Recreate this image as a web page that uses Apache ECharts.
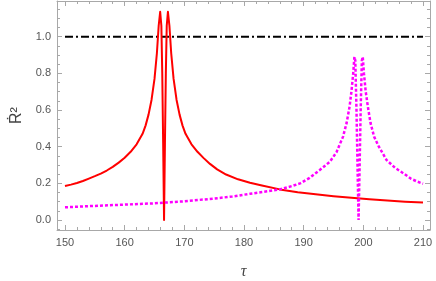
<!DOCTYPE html>
<html>
<head>
<meta charset="utf-8">
<script src="https://cdn.jsdelivr.net/npm/echarts@6/dist/echarts.min.js"></script>
<style>html,body{margin:0;padding:0;background:#fff;}#c{width:436px;height:281px;}</style>
</head>
<body>
<div id="c"></div>
<script>
var redTau = [150,151,152,153,154,155,156,157,158,159,160,161,162,163,163.5,164,164.5,165,165.4,165.7,165.95,166.15,166.3,166.45,166.6,166.75,166.9,167.05,167.25,167.5,167.8,168.2,168.7,169.2,169.7,170.2,171.2,172.2,173.2,174.3,175.5,177,179,181,183,186,189,192,195,198,201,204,207,210];
var redVal = [0.185,0.193,0.202,0.213,0.226,0.239,0.253,0.27,0.29,0.313,0.34,0.372,0.413,0.47,0.515,0.575,0.655,0.77,0.91,1.06,1.136,1.06,0.8,0.42,0.0,0.42,0.8,1.06,1.136,1.06,0.91,0.77,0.655,0.575,0.515,0.47,0.413,0.372,0.339,0.306,0.276,0.248,0.222,0.203,0.188,0.167,0.151,0.140,0.130,0.121,0.113,0.106,0.100,0.095];
var magTau = [150,155,160,165,170,175,178,181,184,186,188,189.4,191,192.7,194.4,195.5,196.6,197.2,197.7,198.0,198.3,198.5,198.65,198.85,199.05,199.2,199.35,199.55,199.75,199.9,200.1,200.4,200.75,201.2,201.8,202.6,203.9,205.3,206.7,208,209,210];
var magVal = [0.069,0.077,0.084,0.091,0.102,0.117,0.128,0.143,0.157,0.167,0.185,0.20,0.23,0.273,0.318,0.37,0.455,0.53,0.62,0.70,0.80,0.89,0.87,0.6,0.25,0.0,0.25,0.6,0.87,0.89,0.80,0.70,0.62,0.53,0.455,0.40,0.327,0.285,0.255,0.225,0.21,0.198];
var refTau = [150,210];
var refVal = [1.0,1.0];
var xMajorTicks = [150,160,170,180,190,200,210];
var xMinorTicks = [152,154,156,158,162,164,166,168,172,174,176,178,182,184,186,188,192,194,196,198,202,204,206,208];
var yMajorTicks = [0.0,0.2,0.4,0.6,0.8,1.0];
var yMinorTicks = [-0.05,0.05,0.1,0.15,0.25,0.3,0.35,0.45,0.5,0.55,0.65,0.7,0.75,0.85,0.9,0.95,1.05,1.1,1.15];

function pairs(a,b){return a.map(function(v,i){return [v,b[i]];});}
var frameColor = '#a8a8a8';
var labelColor = '#555';
var XMIN=148.66, XMAX=211.17, YMIN=-0.0546, YMAX=1.195;
function xAx(pos, major, labels){
  return {type:'value', position:pos, offset:0, min:XMIN, max:XMAX,
    axisLine:{show:major, onZero:false, lineStyle:{color:frameColor,width:1}},
    splitLine:{show:false},
    axisTick:{show:true, inside:true, length: major?5:3, lineStyle:{color:frameColor}, customValues: major?xMajorTicks:xMinorTicks},
    axisLabel:{show:labels, customValues:xMajorTicks, color:labelColor, fontSize:11, fontFamily:'Liberation Sans', margin:7, formatter:function(v){return String(v);}},
    name: labels?'τ':'', nameLocation:'middle', nameGap:34,
    nameTextStyle:{fontSize:16, fontStyle:'italic', color:'#444', fontFamily:'Liberation Serif'}
  };
}
function yAx(pos, major, labels){
  return {type:'value', position:pos, offset:0, min:YMIN, max:YMAX,
    axisLine:{show:major, onZero:false, lineStyle:{color:frameColor,width:1}},
    splitLine:{show:false},
    axisTick:{show:true, inside:true, length: major?5:3, lineStyle:{color:frameColor}, customValues: major?yMajorTicks:yMinorTicks},
    axisLabel:{show:labels, customValues:yMajorTicks, color:labelColor, fontSize:11, fontFamily:'Liberation Sans', margin:6, formatter:function(v){return v.toFixed(1);}},
    name: labels?'Ṙ²':'', nameLocation:'middle', nameGap:32, nameRotate:90,
    nameTextStyle:{fontSize:16, color:'#444', fontFamily:'Liberation Sans'}
  };
}
var chart = echarts.init(document.getElementById('c'), null, {renderer:'canvas'});
chart.setOption({
  animation:false,
  grid:{left:57, right:6, top:1, bottom:51, show:false, containLabel:false, outerBoundsMode:'none'},
  xAxis:[xAx('bottom',true,true), xAx('bottom',false,false), xAx('top',true,false), xAx('top',false,false)],
  yAxis:[yAx('left',true,true), yAx('left',false,false), yAx('right',true,false), yAx('right',false,false)],
  series:[
    {type:'line', data:pairs(refTau,refVal), symbol:'none', lineStyle:{color:'#000', width:2, type:[8,3,2,3]}},
    {type:'line', data:pairs(redTau,redVal), symbol:'none', lineStyle:{color:'#ff0000', width:2, join:'round'}},
    {type:'line', data:pairs(magTau,magVal), symbol:'none', lineStyle:{color:'#ff00ff', width:2.5, type:[3,2]}}
  ]
});
</script>
</body>
</html>
